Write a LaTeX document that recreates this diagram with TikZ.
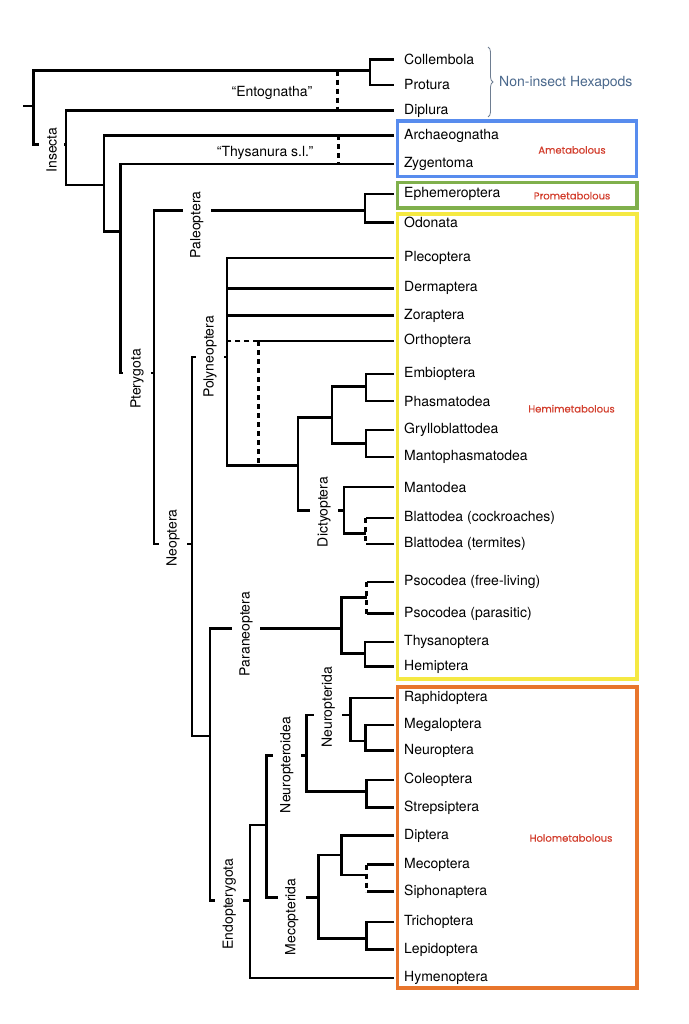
\documentclass[tikz,border=0pt]{standalone}
\usepackage{fontspec}
\setmainfont{TeX Gyre Heros}
\newfontfamily\stagefont[FakeBold=0.6]{Poppins}
\usepackage{tikz}
\usetikzlibrary{decorations.pathreplacing}

\definecolor{hexblue}{RGB}{74,104,140}
\definecolor{bracegray}{RGB}{110,125,145}
\definecolor{stagered}{RGB}{210,62,45}
\definecolor{ametablue}{RGB}{88,140,238}
\definecolor{protogreen}{RGB}{128,176,76}
\definecolor{hemiyellow}{RGB}{245,233,66}
\definecolor{holoorange}{RGB}{232,117,44}

\begin{document}
\begin{tikzpicture}[x=1pt, y=-1pt,
    branch/.style={line width=2.8pt},
    ghost/.style={line width=2.8pt, dash pattern=on 5pt off 4pt},
    taxon/.style={anchor=west, inner sep=0pt, font=\fontsize{14}{16}\selectfont},
    clade/.style={rotate=90, fill=white, inner xsep=1pt, inner ysep=7.5pt, font=\fontsize{14}{16}\selectfont},
    stage/.style={inner sep=0pt, text=stagered, font=\stagefont\fontsize{10}{12}\selectfont},
    stagebox/.style={line width=3.5pt}]
    \useasboundingbox (0,0) rectangle (688,1024);

    % Draw taxa and their tips
    \foreach \n/\y/\t in {collembola/59.5/Collembola, protura/85/Protura, diplura/110.7/Diplura,
      archaeognatha/135.5/Archaeognatha, zygentoma/164/Zygentoma, ephemeroptera/194/Ephemeroptera,
      odonata/222.5/Odonata, plecoptera/258/Plecoptera, dermaptera/288.3/Dermaptera,
      zoraptera/315.5/Zoraptera, orthoptera/341/Orthoptera, embioptera/374/Embioptera,
      phasmatodea/401/Phasmatodea, grylloblattodea/430/Grylloblattodea,
      mantophasmatodea/457/Mantophasmatodea, mantodea/487/Mantodea,
      cockroaches/518/Blattodea (cockroaches), termites/544/Blattodea (termites),
      freeliving/582/Psocodea (free-living), parasitic/613.5/Psocodea (parasitic),
      thysanoptera/642/Thysanoptera, hemiptera/666.5/Hemiptera, raphidoptera/698/Raphidoptera,
      megaloptera/725/Megaloptera, neuroptera/750.7/Neuroptera, coleoptera/780/Coleoptera,
      strepsiptera/807.5/Strepsiptera, diptera/835.5/Diptera, mecoptera/864.5/Mecoptera,
      siphonaptera/891.5/Siphonaptera, trichoptera/922/Trichoptera, lepidoptera/949.5/Lepidoptera,
      hymenoptera/978/Hymenoptera} {
      \node[taxon] (\n) at (404,\y) {\t};
      \coordinate (\n-tip) at (394,\y);
    }

    % Branch points
    \coordinate (base) at (23.3,106);
    \coordinate (root) at (33.3,106);
    \coordinate (cp) at (370,70.7);
    \coordinate (ento) at (337.3,70.7);
    \coordinate (insecta) at (66,144.3);
    \coordinate (ectog) at (104,185);
    \coordinate (thys) at (338.3,135.5);
    \coordinate (dicond) at (120.7,231.7);
    \coordinate (pterygota) at (154,373);
    \coordinate (paleo) at (365,210.7);
    \coordinate (neoptera) at (192,544);
    \coordinate (poly) at (227,357);
    \coordinate (ortho) at (258.3,341);
    \coordinate (polyrest) at (298,465.7);
    \coordinate (emgrma) at (332,417.3);
    \coordinate (embphas) at (366,386.7);
    \coordinate (grylman) at (366,443.3);
    \coordinate (dictyoptera) at (344,510.7);
    \coordinate (blattodea) at (365.7,533.3);
    \coordinate (neo2) at (210,736);
    \coordinate (paraneo) at (341.7,628.3);
    \coordinate (psocodea) at (366.7,597.7);
    \coordinate (condylo) at (365,653.5);
    \coordinate (endo) at (250,900.7);
    \coordinate (holo) at (266.7,825);
    \coordinate (neuroidea) at (306.7,755.7);
    \coordinate (neurida) at (350.7,715);
    \coordinate (megneu) at (365.7,741);
    \coordinate (colstr) at (366.7,791.7);
    \coordinate (mecopterida) at (318.3,897.7);
    \coordinate (antlio) at (341.7,855);
    \coordinate (mecsip) at (366.7,875);
    \coordinate (amphi) at (366.7,938.3);

    % Draw the tree
    \draw[branch] (base) -- (root);
    \draw[branch] (cp) -| (root) |- (insecta);
    \draw[branch] (collembola-tip) -| (cp) |- (protura-tip);
    \draw[ghost] (ento) -- (ento |- diplura-tip);
    \draw[branch] (diplura-tip) -| (insecta) |- (ectog);
    \draw[branch] (archaeognatha-tip) -| (ectog) |- (dicond);
    \draw[ghost] (thys) -- (thys |- zygentoma-tip);
    \draw[branch] (zygentoma-tip) -| (dicond) |- (pterygota);
    \draw[branch] (paleo) -| (pterygota) |- (neoptera);
    \draw[branch] (ephemeroptera-tip) -| (paleo) |- (odonata-tip);
    \draw[branch] (poly) -| (neoptera) |- (neo2);

    % Polyneoptera
    \draw[branch] (plecoptera-tip) -| (poly) |- (polyrest);
    \draw[branch] (dermaptera-tip) -- (dermaptera-tip -| poly);
    \draw[branch] (zoraptera-tip) -- (zoraptera-tip -| poly);
    \draw[branch] (orthoptera-tip) -- (ortho);
    \draw[ghost] (ortho) -- (ortho -| poly);
    \draw[ghost] (ortho) -- (ortho |- polyrest);
    \draw[branch] (emgrma) -| (polyrest) |- (dictyoptera);
    \draw[branch] (embphas) -| (emgrma) |- (grylman);
    \draw[branch] (embioptera-tip) -| (embphas) |- (phasmatodea-tip);
    \draw[branch] (grylloblattodea-tip) -| (grylman) |- (mantophasmatodea-tip);
    \draw[branch] (mantodea-tip) -| (dictyoptera) |- (blattodea);
    \draw[branch] (cockroaches-tip) -- (cockroaches-tip -| blattodea);
    \draw[branch] (termites-tip) -- (termites-tip -| blattodea);
    \draw[ghost] (cockroaches-tip -| blattodea) -- (termites-tip -| blattodea);

    % Paraneoptera
    \draw[branch] (paraneo) -| (neo2) |- (endo);
    \draw[branch] (psocodea) -| (paraneo) |- (condylo);
    \draw[branch] (freeliving-tip) -- (freeliving-tip -| psocodea);
    \draw[branch] (parasitic-tip) -- (parasitic-tip -| psocodea);
    \draw[ghost] (freeliving-tip -| psocodea) -- (parasitic-tip -| psocodea);
    \draw[branch] (thysanoptera-tip) -| (condylo) |- (hemiptera-tip);

    % Endopterygota
    \draw[branch] (holo) -| (endo) |- (hymenoptera-tip);
    \draw[branch] (neuroidea) -| (holo) |- (mecopterida);
    \draw[branch] (neurida) -| (neuroidea) |- (colstr);
    \draw[branch] (raphidoptera-tip) -| (neurida) |- (megneu);
    \draw[branch] (megaloptera-tip) -| (megneu) |- (neuroptera-tip);
    \draw[branch] (coleoptera-tip) -| (colstr) |- (strepsiptera-tip);
    \draw[branch] (antlio) -| (mecopterida) |- (amphi);
    \draw[branch] (diptera-tip) -| (antlio) |- (mecsip);
    \draw[branch] (mecoptera-tip) -- (mecoptera-tip -| mecsip);
    \draw[branch] (siphonaptera-tip) -- (siphonaptera-tip -| mecsip);
    \draw[ghost] (mecoptera-tip -| mecsip) -- (siphonaptera-tip -| mecsip);
    \draw[branch] (trichoptera-tip) -| (amphi) |- (lepidoptera-tip);

    % Clade names on the branches
    \foreach \n/\x/\y/\t in {insecta/51.7/150/Insecta, pterygota/137/379/Pterygota,
      paleoptera/196.7/225/Paleoptera, neoptera/173/538/Neoptera, polyneoptera/210/357/Polyneoptera,
      dictyoptera/324/512/Dictyoptera, paraneoptera/246/634/Paraneoptera,
      neuropteroidea/286.7/765/Neuropteroidea, neuropterida/328.3/707/Neuropterida,
      endopterygota/229.3/904/Endopterygota, mecopterida/291.7/917/Mecopterida} {
      \node[clade] (\n-label) at (\x,\y) {\t};
    }
    \node[font=\fontsize{14}{16}\selectfont] (entognatha) at (272,93.3) {“Entognatha”};
    \node[font=\fontsize{14}{16}\selectfont] (thysanura) at (265,152.7) {“Thysanura s.l.”};

    % Non-insect hexapods
    \coordinate (brace-top) at (488,47);
    \coordinate (brace-bottom) at (488,117);
    \draw[bracegray, line width=0.8pt, decorate, decoration={brace, amplitude=5pt}] (brace-top) -- (brace-bottom);
    \node[taxon, text=hexblue] (hexapods) at (499,83.3) {Non-insect Hexapods};

    % Development boxes
    \draw[stagebox, ametablue] (397.7,121) rectangle (636.7,176.7);
    \draw[stagebox, protogreen] (397.5,182.7) rectangle (637,208);
    \draw[stagebox, hemiyellow] (397.5,214) rectangle (637,679);
    \draw[stagebox, holoorange] (397.5,687) rectangle (637,988);
    \node[stage] (ametabolous) at (572,150) {Ametabolous};
    \node[stage] (prometabolous) at (572,195.7) {Prometabolous};
    \node[stage] (hemimetabolous) at (571.5,408.7) {Hemimetabolous};
    \node[stage] (holometabolous) at (571,838) {Holometabolous};

\end{tikzpicture}
\end{document}
